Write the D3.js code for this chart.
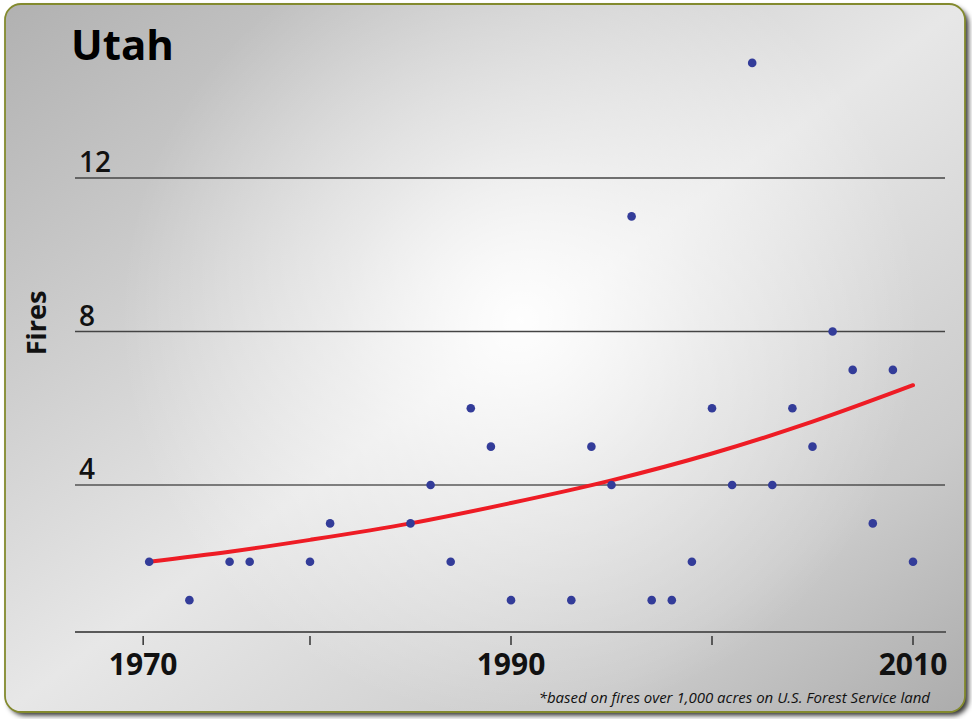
<!DOCTYPE html>
<html><head><meta charset="utf-8">
<script src="https://cdn.jsdelivr.net/npm/d3@7"></script>
<style>html,body{margin:0;padding:0;background:#fff;}svg{display:block;}</style>
</head><body>
<svg id="chart" width="972" height="719"></svg>
<script>
// ---- data ----
const years = [1972,1974,1976,1977,1980,1981,1985,1986,1987,1988,1989,1990,1993,1994,1995,1996,1997,1998,1999,2000,2001,2002,2003,2004,2005,2006,2007,2008,2009,2010];
const fires = [2,1,2,2,2,3,3,4,2,6,5,1,1,5,4,11,1,1,2,6,4,15,4,6,5,8,7,3,7,2];
const trendYears = [1972,1976,1980,1985,1990,1995,2000,2005,2010];
const trendValues = [2.0,2.26,2.57,3.0,3.53,4.12,4.82,5.65,6.6];
const yTicks = [4,8,12];
const xTickYears = [1971.7,1980,1990,2000,2010];
const xTickLabels = ["1970","","1990","","2010"];
const title = "Utah";
const yLabel = "Fires";
const footnote = "*based on fires over 1,000 acres on U.S. Forest Service land";

const svg = d3.select("#chart");
const defs = svg.append("defs");

const lin = defs.append("linearGradient").attr("id","bgLin")
  .attr("x1",0).attr("y1",0).attr("x2",1).attr("y2",1);
[[0,"#b1b1b1"],[0.2,"#c6c6c6"],[0.5,"#e7e7e7"],[0.8,"#cbcbcb"],[1,"#acacac"]]
  .forEach(s=>lin.append("stop").attr("offset",s[0]).attr("stop-color",s[1]));

const rad = defs.append("radialGradient").attr("id","bgRad")
  .attr("gradientUnits","userSpaceOnUse")
  .attr("cx",520).attr("cy",320).attr("r",400);
rad.append("stop").attr("offset",0).attr("stop-color","#fff").attr("stop-opacity",0.95);
rad.append("stop").attr("offset",0.45).attr("stop-color","#fff").attr("stop-opacity",0.45);
rad.append("stop").attr("offset",1).attr("stop-color","#fff").attr("stop-opacity",0);

const sh = defs.append("filter").attr("id","shadow").attr("x","-5%").attr("y","-5%").attr("width","110%").attr("height","110%");
sh.append("feDropShadow").attr("dx",3.5).attr("dy",3.5).attr("stdDeviation",2.5).attr("flood-color","#000").attr("flood-opacity",0.8);

const panel = {x:5,y:4,w:960,h:708,r:16};
svg.append("rect").attr("x",panel.x).attr("y",panel.y).attr("width",panel.w).attr("height",panel.h)
  .attr("rx",panel.r).attr("ry",panel.r)
  .attr("fill","url(#bgLin)").attr("filter","url(#shadow)");
svg.append("rect").attr("x",panel.x).attr("y",panel.y).attr("width",panel.w).attr("height",panel.h)
  .attr("rx",panel.r).attr("ry",panel.r)
  .attr("fill","url(#bgRad)").attr("stroke","#838a2e").attr("stroke-width",1.8);

// ---- scales ----
const x = d3.scaleLinear().domain([1990,2010]).range([511,913]);
const y = d3.scaleLinear().domain([0,12]).range([638.5,178]);

const font = "'Open Sans', 'Noto Sans', sans-serif";

// gridlines
const grid = svg.append("g");
grid.selectAll("line").data(yTicks).join("line")
  .attr("x1",75).attr("x2",945)
  .attr("y1",d=>y(d)).attr("y2",d=>y(d))
  .attr("stroke",d=>d===4?"#111":"#444").attr("stroke-width",d=>d===4?1.2:1.5);
grid.selectAll("text").data(yTicks).join("text")
  .attr("x",79).attr("y",d=>y(d)-6)
  .attr("font-family",font).attr("font-weight",600).attr("font-size",28)
  .attr("fill","#111").text(d=>d);

// x axis baseline
svg.append("line").attr("x1",75).attr("x2",946)
  .attr("y1",y(0.17)).attr("y2",y(0.17))
  .attr("stroke","#5a5a5a").attr("stroke-width",2);

const xa = svg.append("g");
xa.selectAll("line").data(xTickYears).join("line")
  .attr("x1",d=>x(d)).attr("x2",d=>x(d))
  .attr("y1",636).attr("y2",645)
  .attr("stroke","#333").attr("stroke-width",1.5);
xa.selectAll("text").data(xTickYears).join("text")
  .attr("x",d=>x(d)).attr("y",675).attr("text-anchor","middle")
  .attr("font-family",font).attr("font-weight",700).attr("font-size",30)
  .attr("fill","#111").text((d,i)=>xTickLabels[i]);

// trend line
const line = d3.line().x(d=>x(d[0])).y(d=>y(d[1])).curve(d3.curveMonotoneX);
svg.append("path").datum(trendYears.map((t,i)=>[t,trendValues[i]]))
  .attr("d",line).attr("fill","none").attr("stroke","#ee1c25").attr("stroke-width",4).attr("stroke-linecap","round");

// dots
svg.append("g").selectAll("circle").data(years.map((t,i)=>[t,fires[i]])).join("circle")
  .attr("cx",d=>x(d[0])).attr("cy",d=>y(d[1])).attr("r",4.3).attr("fill","#333c99");

// title
svg.append("text").attr("x",71).attr("y",60)
  .attr("font-family",font).attr("font-weight",700).attr("font-size",42)
  .attr("fill","#000").text(title);

// y label
svg.append("text").attr("transform","translate(46,323) rotate(-90)")
  .attr("text-anchor","middle")
  .attr("font-family",font).attr("font-weight",700).attr("font-size",27)
  .attr("fill","#111").text(yLabel);

// footnote
svg.append("text").attr("x",930).attr("y",703).attr("text-anchor","end")
  .attr("font-family",font).attr("font-style","italic").attr("font-size",15)
  .attr("fill","#111").text(footnote);
</script>
</body></html>
